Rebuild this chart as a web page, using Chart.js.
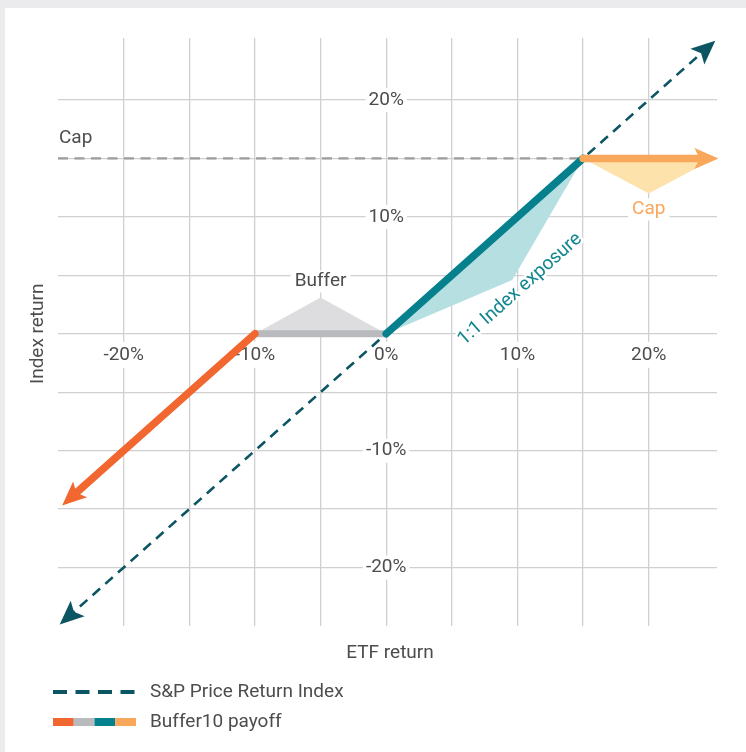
<!DOCTYPE html>
<html><head><meta charset="utf-8">
<script src="https://cdn.jsdelivr.net/npm/chart.js@4/dist/chart.umd.min.js"></script>
<style>
html,body{margin:0;padding:0;background:#ebebed;width:746px;height:752px;overflow:hidden}
#card{position:absolute;left:5px;top:8px;width:741px;height:744px;background:#fff}
#c{position:absolute;left:0;top:0}
</style></head><body><div id="card"></div><canvas id="c" width="746" height="752"></canvas>
<script>
// ---- data ----
const gridValues=[-20,-15,-10,-5,0,5,10,15,20];
const xTickValues=[-20,-10,0,10,20];
const xTickLabels=['-20%','-10%','0%','10%','20%'];
const yTickValues=[20,10,-10,-20];
const yTickLabels=['20%','10%','-10%','-20%'];
const indexLine=[[-24.3,-24.3],[24.5,24.5]];
const capLine=[[-25,15],[15,15]];
const downsideSeg=[[-10,0],[-24,-14]];
const bufferSeg=[[-10,0],[0,0]];
const exposureSeg=[[0,0],[15,15]];
const capSeg=[[15,15],[24.4,15]];
const bufferShape=[[-10,0],[-5,3.1],[0,0]];
const exposureShape=[[0,0],[9.6,4.6],[15,15]];
const capShape=[[15,15],[20,12],[25,15]];
const legendLabels=['S&P Price Return Index','Buffer10 payoff'];

const FONT='Roboto';
const FS=19;
const TXT='#4d4d4f';
const C={dark:'#0c5562',orange:'#f1672f',gray:'#b9babd',teal:'#05808c',lorange:'#f9a75b',
  grayFill:'#dddde0',tealFill:'#b6dfe1',orangeFill:'#fde2ab',capDash:'#9c9c9e',grid:'#d0d0d2'};

function pts(a){return a.map(p=>({x:p[0],y:p[1]}));}
function lineDs(d,color,w,extra){return Object.assign({data:pts(d),showLine:true,borderColor:color,borderWidth:w,
  borderCapStyle:'round',pointRadius:0,pointHoverRadius:0,fill:false,tension:0},extra||{});}
function shapeDs(d,color){return {data:pts(d),showLine:true,borderWidth:0,borderColor:'rgba(0,0,0,0)',
  backgroundColor:color,fill:'shape',pointRadius:0,pointHoverRadius:0,tension:0};}

function text(ctx,s,x,y,o){
  o=o||{};ctx.save();
  ctx.font=(o.size||FS)+'px '+FONT;ctx.fillStyle=o.color||TXT;
  ctx.textAlign=o.align||'center';ctx.textBaseline='middle';
  if(o.rot){ctx.translate(x,y);ctx.rotate(o.rot);x=0;y=0;}
  if(o.box){const w=ctx.measureText(s).width;ctx.fillStyle='#fff';
    let lx=o.align==='left'?x:(o.align==='right'?x-w:x-w/2);
    ctx.fillRect(lx-o.box[0],y-o.box[1],w+2*o.box[0],2*o.box[1]);ctx.fillStyle=o.color||TXT;}
  if(o.halo){ctx.strokeStyle='#fff';ctx.lineWidth=o.halo;ctx.lineJoin='round';ctx.strokeText(s,x,y);}
  ctx.fillText(s,x,y);ctx.restore();
}

function arrow(ctx,tx,ty,ux,uy,color){
  const L=24,W=10.5,N=19;const px=-uy,py=ux;
  ctx.save();ctx.fillStyle=color;ctx.beginPath();
  ctx.moveTo(tx,ty);
  ctx.lineTo(tx-ux*L+px*W,ty-uy*L+py*W);
  ctx.lineTo(tx-ux*N,ty-uy*N);
  ctx.lineTo(tx-ux*L-px*W,ty-uy*L-py*W);
  ctx.closePath();ctx.fill();ctx.restore();
}

const tickPlugin={id:'ticksText',beforeDatasetsDraw(chart){
  const ctx=chart.ctx,xs=chart.scales.x,ys=chart.scales.y;
  const y0=ys.getPixelForValue(0),x0=xs.getPixelForValue(0);
  xTickValues.forEach((v,i)=>text(ctx,xTickLabels[i],xs.getPixelForValue(v),y0+21,{box:[3,13]}));
  yTickValues.forEach((v,i)=>text(ctx,yTickLabels[i],x0,ys.getPixelForValue(v),{box:[3,12]}));
}};

const overlayPlugin={id:'overlay',afterDatasetsDraw(chart){
  const ctx=chart.ctx,xs=chart.scales.x,ys=chart.scales.y;
  chart.data.datasets.forEach((ds,i)=>{
    if(!ds.arrows)return;const m=chart.getDatasetMeta(i).data;
    const ends=[];
    if(ds.arrows.indexOf('end')>=0)ends.push([m[m.length-2],m[m.length-1]]);
    if(ds.arrows.indexOf('start')>=0)ends.push([m[1],m[0]]);
    ends.forEach(([a,b])=>{const dx=b.x-a.x,dy=b.y-a.y,l=Math.hypot(dx,dy);const ux=dx/l,uy=dy/l;
      const ext=ds.arrowExt;arrow(ctx,b.x+ux*ext,b.y+uy*ext,ux,uy,ds.borderColor);});
  });
  text(ctx,'Cap',xs.getPixelForValue(-25)+1,ys.getPixelForValue(15)-20,{align:'left'});
  text(ctx,'Buffer',xs.getPixelForValue(-5),ys.getPixelForValue(3.1)-16,{box:[4,11]});
  text(ctx,'Cap',xs.getPixelForValue(20),ys.getPixelForValue(12)+16,{color:C.lorange,box:[4,11]});
  const ang=Math.atan2(ys.getPixelForValue(15)-ys.getPixelForValue(0),xs.getPixelForValue(15)-xs.getPixelForValue(0));
  text(ctx,'1:1 Index exposure',xs.getPixelForValue(10.2),ys.getPixelForValue(3.8),{color:'#12868f',rot:ang,halo:5});
  text(ctx,'Index return',38,ys.getPixelForValue(0),{rot:-Math.PI/2});
  text(ctx,'ETF return',390,653);
  ctx.save();ctx.strokeStyle=C.dark;ctx.lineWidth=4;ctx.setLineDash([14,8.5]);
  ctx.beginPath();ctx.moveTo(53,692);ctx.lineTo(135,692);ctx.stroke();ctx.restore();
  const segs=[C.orange,C.gray,C.teal,C.lorange];
  segs.forEach((c,i)=>{ctx.fillStyle=c;ctx.fillRect(53+i*20.75,718,20.75,8);});
  text(ctx,legendLabels[0],150,692,{align:'left'});
  text(ctx,legendLabels[1],150,722,{align:'left'});
}};

function make(){
new Chart(document.getElementById('c'),{
  type:'scatter',
  data:{datasets:[
    lineDs(capSeg,C.lorange,7.5,{arrows:['end'],arrowExt:12}),
    lineDs(exposureSeg,C.teal,7.5),
    lineDs(downsideSeg,C.orange,7.5,{arrows:['end'],arrowExt:12}),
    lineDs(bufferSeg,C.gray,7,{borderCapStyle:'butt'}),
    lineDs(indexLine,C.dark,2.6,{borderDash:[10,7],borderCapStyle:'butt',arrows:['start','end'],arrowExt:10}),
    lineDs(capLine,C.capDash,2.4,{borderDash:[10,6.5],borderCapStyle:'butt'}),
    shapeDs(bufferShape,C.grayFill),
    shapeDs(exposureShape,C.tealFill),
    shapeDs(capShape,C.orangeFill)
  ]},
  options:{
    responsive:false,animation:false,devicePixelRatio:1,
    layout:{padding:{left:58,right:29,top:38,bottom:126}},
    plugins:{legend:{display:false},tooltip:{enabled:false}},
    events:[],
    scales:{
      x:{type:'linear',min:-25,max:25.2,border:{display:false},
        grid:{color:C.grid,lineWidth:1.3,drawTicks:false},ticks:{display:false},
        afterBuildTicks:s=>{s.ticks=gridValues.map(v=>({value:v}));}},
      y:{type:'linear',min:-25,max:25.3,border:{display:false},
        grid:{color:C.grid,lineWidth:1.3,drawTicks:false},ticks:{display:false},
        afterBuildTicks:s=>{s.ticks=gridValues.map(v=>({value:v}));}}
    }
  },
  plugins:[tickPlugin,overlayPlugin]
});
}
if(document.fonts&&document.fonts.load){document.fonts.load(FS+'px '+FONT).then(make,make);}else make();
</script></body></html>
